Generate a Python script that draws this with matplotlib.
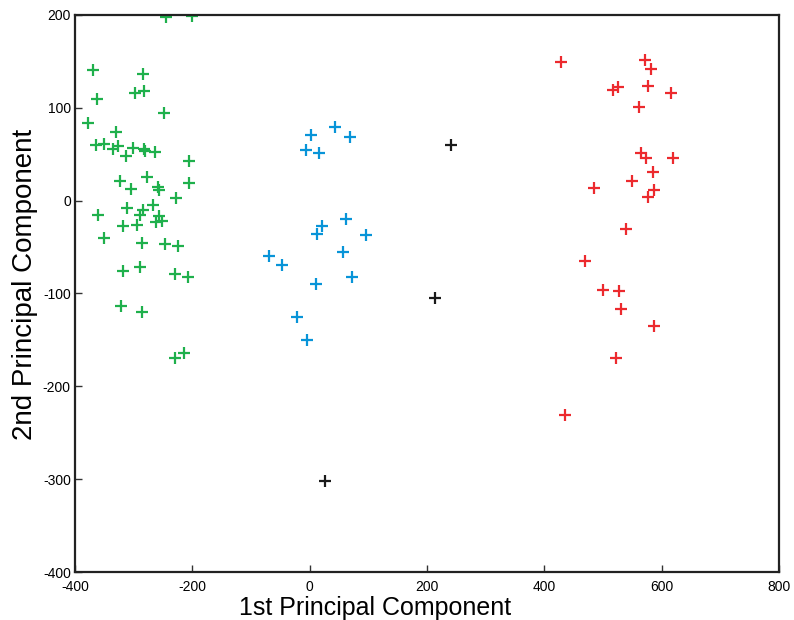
import matplotlib
matplotlib.use('Agg')
import matplotlib.pyplot as plt

plt.rcParams['font.family'] = ['Liberation Sans Narrow', 'Liberation Sans', 'DejaVu Sans']
plt.rcParams['axes.unicode_minus'] = False

# 第一群 (綠)
green_x = [-245, -200, -369, -284, -363, -298, -282, -248,
           -377, -330, -365, -351, -336, -327, -313, -301, -282, -280, -263,
           -206, -323, -277, -305, -259, -256, -205, -227,
           -361, -311, -284, -289, -267, -257, -262, -252, -318, -295, -350,
           -286, -246, -224, -318, -290, -229, -207, -321, -286, -215, -229]
green_y = [198, 199, 141, 136, 109, 116, 118, 94,
           84, 74, 60, 61, 56, 59, 48, 57, 56, 54, 52,
           43, 21, 26, 13, 15, 11, 19, 3,
           -15, -8, -10, -15, -5, -16, -23, -22, -27, -26, -40,
           -46, -47, -49, -76, -71, -79, -82, -113, -120, -164, -169]

# 第二群 (藍)
blue_x = [3, 43, 68, -6, 16, 62, 21, 13, 96, -69, -48, 56, 73, 11, -22, -5]
blue_y = [71, 79, 69, 55, 51, -20, -27, -36, -37, -60, -69, -55, -82, -90, -125, -150]

# 第三群 (紅)
red_x = [428, 571, 581, 517, 526, 576, 616, 562, 564, 573, 619, 586, 549, 485,
         587, 576, 540, 469, 500, 528, 531, 587, 522, 436]
red_y = [149, 151, 142, 119, 122, 123, 116, 101, 51, 46, 46, 31, 21, 14,
         11, 4, -31, -65, -96, -97, -117, -135, -169, -231]

# 離群點 (黑)
black_x = [241, 214, 26]
black_y = [60, -105, -302]

COLOR_GREEN = '#1fb04c'
COLOR_BLUE = '#0894d8'
COLOR_RED = '#ec2a2e'
COLOR_BLACK = '#1a1a1a'

fig = plt.figure(figsize=(7.94, 6.20), dpi=100)
ax = fig.add_axes([75 / 794, 48 / 620, 704 / 794, 557 / 620])

mk = dict(marker='+', linestyle='none', markersize=9, markeredgewidth=1.6)
ax.plot(green_x, green_y, color=COLOR_GREEN, **mk)
ax.plot(blue_x, blue_y, color=COLOR_BLUE, **mk)
ax.plot(red_x, red_y, color=COLOR_RED, **mk)
ax.plot(black_x, black_y, color=COLOR_BLACK, **mk)

ax.set_xlim(-400, 800)
ax.set_ylim(-400, 200)
ax.set_xticks([-400, -200, 0, 200, 400, 600, 800])
ax.set_yticks([-400, -300, -200, -100, 0, 100, 200])

ax.tick_params(direction='in', length=5, width=1, color='#333333',
               labelsize=10, pad=3, top=False, right=False)
ax.tick_params(axis='x', pad=6)
for s in ax.spines.values():
    s.set_linewidth(1.6)
    s.set_color('#222222')

ax.set_xlabel('1st Principal Component', fontsize=18)
ax.set_ylabel('2nd Principal Component', fontsize=20)
ax.xaxis.set_label_coords(0.426, -0.043)
ax.yaxis.set_label_coords(-0.053, 0.517)

fig.savefig('out.png', dpi=100)
